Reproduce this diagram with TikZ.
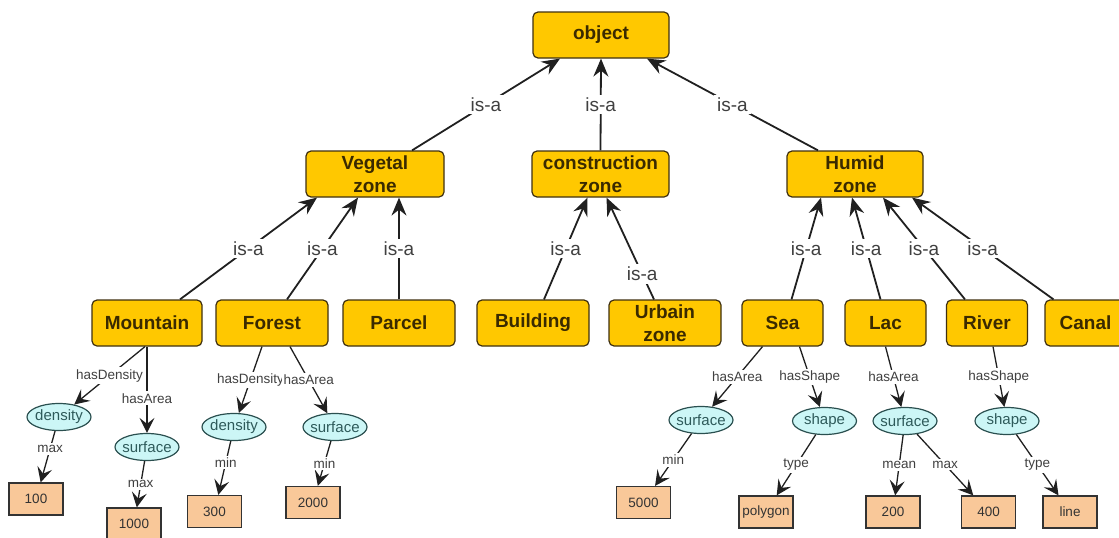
\documentclass[tikz,border=0pt]{standalone}
\usepackage{fontspec}
\setmainfont{Liberation Sans}
\usetikzlibrary{arrows.meta,shapes.geometric}

\definecolor{classfill}{HTML}{FFC800}
\definecolor{classline}{HTML}{3F3010}
\definecolor{classtext}{HTML}{3A2A00}
\definecolor{attrfill}{HTML}{CCF6F6}
\definecolor{attrline}{HTML}{2A4F4F}
\definecolor{attrtext}{HTML}{2E5A5A}
\definecolor{valfill}{HTML}{F9C899}
\definecolor{valline}{HTML}{333333}
\definecolor{valtext}{HTML}{333333}
\definecolor{linkcolor}{HTML}{202020}
\definecolor{lblcolor}{HTML}{404040}

\begin{document}
\begin{tikzpicture}[x=1pt, y=-1pt,
		classbox/.style={draw=classline, fill=classfill, line width=1.2pt, rounded corners=5pt, minimum width=112pt, minimum height=46pt, inner sep=0pt, align=center, text=classtext, font=\fontsize{19}{23}\selectfont\bfseries},
		attrell/.style={ellipse, draw=attrline, fill=attrfill, line width=1.2pt, minimum width=64pt, minimum height=27pt, inner xsep=-8pt, inner ysep=-2pt, text=attrtext, font=\fontsize{15}{17}\selectfont},
		valbox/.style={draw=valline, fill=valfill, line width=1.2pt, minimum width=54pt, minimum height=32pt, inner sep=0pt, text=valtext, font=\fontsize{13.5}{15}\selectfont},
		isa/.style={draw=linkcolor, line width=1.8pt, -{Stealth[length=18pt, width=15pt, inset=6pt]}},
		rel/.style={draw=linkcolor, line width=1.3pt, -{Stealth[length=15pt, width=15pt, inset=6pt]}},
		isalbl/.style={fill=white, inner sep=3pt, text=lblcolor, font=\fontsize{19}{21}\selectfont},
		rellbl/.style={fill=white, inner sep=2pt, text=lblcolor, font=\fontsize{13.5}{15}\selectfont}]
			\useasboundingbox (0,0) rectangle (1119,538);
			\clip (0,0) rectangle (1119,538);

			% Classes
			\node[classbox, minimum width=136pt] (object) at (601,35) {object};
			\node[classbox, minimum width=138pt] (vegetal) at (375,174) {Vegetal\\zone};
			\node[classbox, minimum width=137pt] (construction) at (600.5,174) {construction\\zone};
			\node[classbox, minimum width=136pt] (humid) at (855,174) {Humid\\zone};

			\node[classbox, minimum width=110pt] (mountain) at (147,323) {Mountain};
			\node[classbox] (forest) at (272,323) {Forest};
			\node[classbox] (parcel) at (399,323) {Parcel};
			\node[classbox] (building) at (533,323) {Building};
			\node[classbox] (urbain) at (665,323) {Urbain\\zone};
			\node[classbox, minimum width=81pt] (sea) at (782.5,323) {Sea};
			\node[classbox, minimum width=81pt] (lac) at (885.5,323) {Lac};
			\node[classbox, minimum width=81pt] (river) at (987,323) {River};
			\node[classbox, minimum width=81pt] (canal) at (1085.5,323) {Canal};

			% Attributes
			\node[attrell] (mdens) at (59,417) {density};
			\node[attrell] (msurf) at (147,447) {surface};
			\node[attrell] (fdens) at (234,427) {density};
			\node[attrell] (fsurf) at (335,427) {surface};
			\node[attrell] (ssurf) at (701,420) {surface};
			\node[attrell] (sshape) at (824.5,421) {shape};
			\node[attrell] (lsurf) at (905,421) {surface};
			\node[attrell] (rshape) at (1007,421) {shape};

			% Values
			\node[valbox] (v100) at (36,499) {100};
			\node[valbox] (v1000) at (134,524) {1000};
			\node[valbox] (v300) at (214.5,511.5) {300};
			\node[valbox] (v2000) at (313,502.5) {2000};
			\node[valbox] (v5000) at (643.5,502.5) {5000};
			\node[valbox] (vpoly) at (766,512) {polygon};
			\node[valbox] (v200) at (893,512) {200};
			\node[valbox] (v400) at (988.5,512) {400};
			\node[valbox] (vline) at (1070,512) {line};

			% is-a links
			\draw[isa] ([xshift=37pt]vegetal.north) -- node[isalbl] {is-a} ([xshift=-41pt]object.south);
			\draw[isa] (construction.north) -- node[isalbl] {is-a} (object.south);
			\draw[isa] ([xshift=-37pt]humid.north) -- node[isalbl] {is-a} ([xshift=46pt]object.south);

			\draw[isa] ([xshift=33pt]mountain.north) -- node[isalbl] {is-a} ([xshift=-58pt]vegetal.south);
			\draw[isa] ([xshift=15pt]forest.north) -- node[isalbl] {is-a} ([xshift=-17pt]vegetal.south);
			\draw[isa] (parcel.north) -- node[isalbl] {is-a} ([xshift=24pt]vegetal.south);
			\draw[isa] ([xshift=11pt]building.north) -- node[isalbl] {is-a} ([xshift=-13pt]construction.south);
			\draw[isa] ([xshift=-11pt]urbain.north) -- node[isalbl, pos=0.25] {is-a} ([xshift=6pt]construction.south);
			\draw[isa] ([xshift=9pt]sea.north) -- node[isalbl] {is-a} ([xshift=-34pt]humid.south);
			\draw[isa] ([xshift=-5pt]lac.north) -- node[isalbl] {is-a} ([xshift=-3pt]humid.south);
			\draw[isa] ([xshift=-22pt]river.north) -- node[isalbl] {is-a} ([xshift=28pt]humid.south);
			\draw[isa] ([xshift=-32pt]canal.north) -- node[isalbl] {is-a} ([xshift=57pt]humid.south);

			% Properties
			\draw[rel] ([xshift=-2pt]mountain.south) -- node[rellbl] {hasDensity} (mdens);
			\draw[rel] (mountain.south) -- node[rellbl, pos=0.6] {hasArea} (msurf);
			\draw[rel] ([xshift=-10pt]forest.south) -- node[rellbl] {hasDensity} (fdens);
			\draw[rel] ([xshift=18pt]forest.south) -- node[rellbl] {hasArea} (fsurf);
			\draw[rel] ([xshift=-20pt]sea.south) -- node[rellbl] {hasArea} (ssurf);
			\draw[rel] ([xshift=17pt]sea.south) -- node[rellbl] {hasShape} (sshape);
			\draw[rel] (lac.south) -- node[rellbl] {hasArea} (lsurf);
			\draw[rel] ([xshift=6pt]river.south) -- node[rellbl] {hasShape} (rshape);

			% Restrictions
			\draw[rel] (mdens) -- node[rellbl, pos=0.35] {max} (v100);
			\draw[rel] (msurf) -- node[rellbl] {max} (v1000);
			\draw[rel] (fdens) -- node[rellbl, pos=0.4] {min} (v300);
			\draw[rel] (fsurf) -- node[rellbl] {min} (v2000);
			\draw[rel] (ssurf) -- node[rellbl] {min} (v5000);
			\draw[rel] (sshape) -- node[rellbl] {type} (vpoly);
			\draw[rel] (lsurf) -- node[rellbl] {mean} (v200);
			\draw[rel] (lsurf) -- node[rellbl] {max} (v400);
			\draw[rel] (rshape) -- node[rellbl] {type} (vline);
		\end{tikzpicture}
\end{document}
